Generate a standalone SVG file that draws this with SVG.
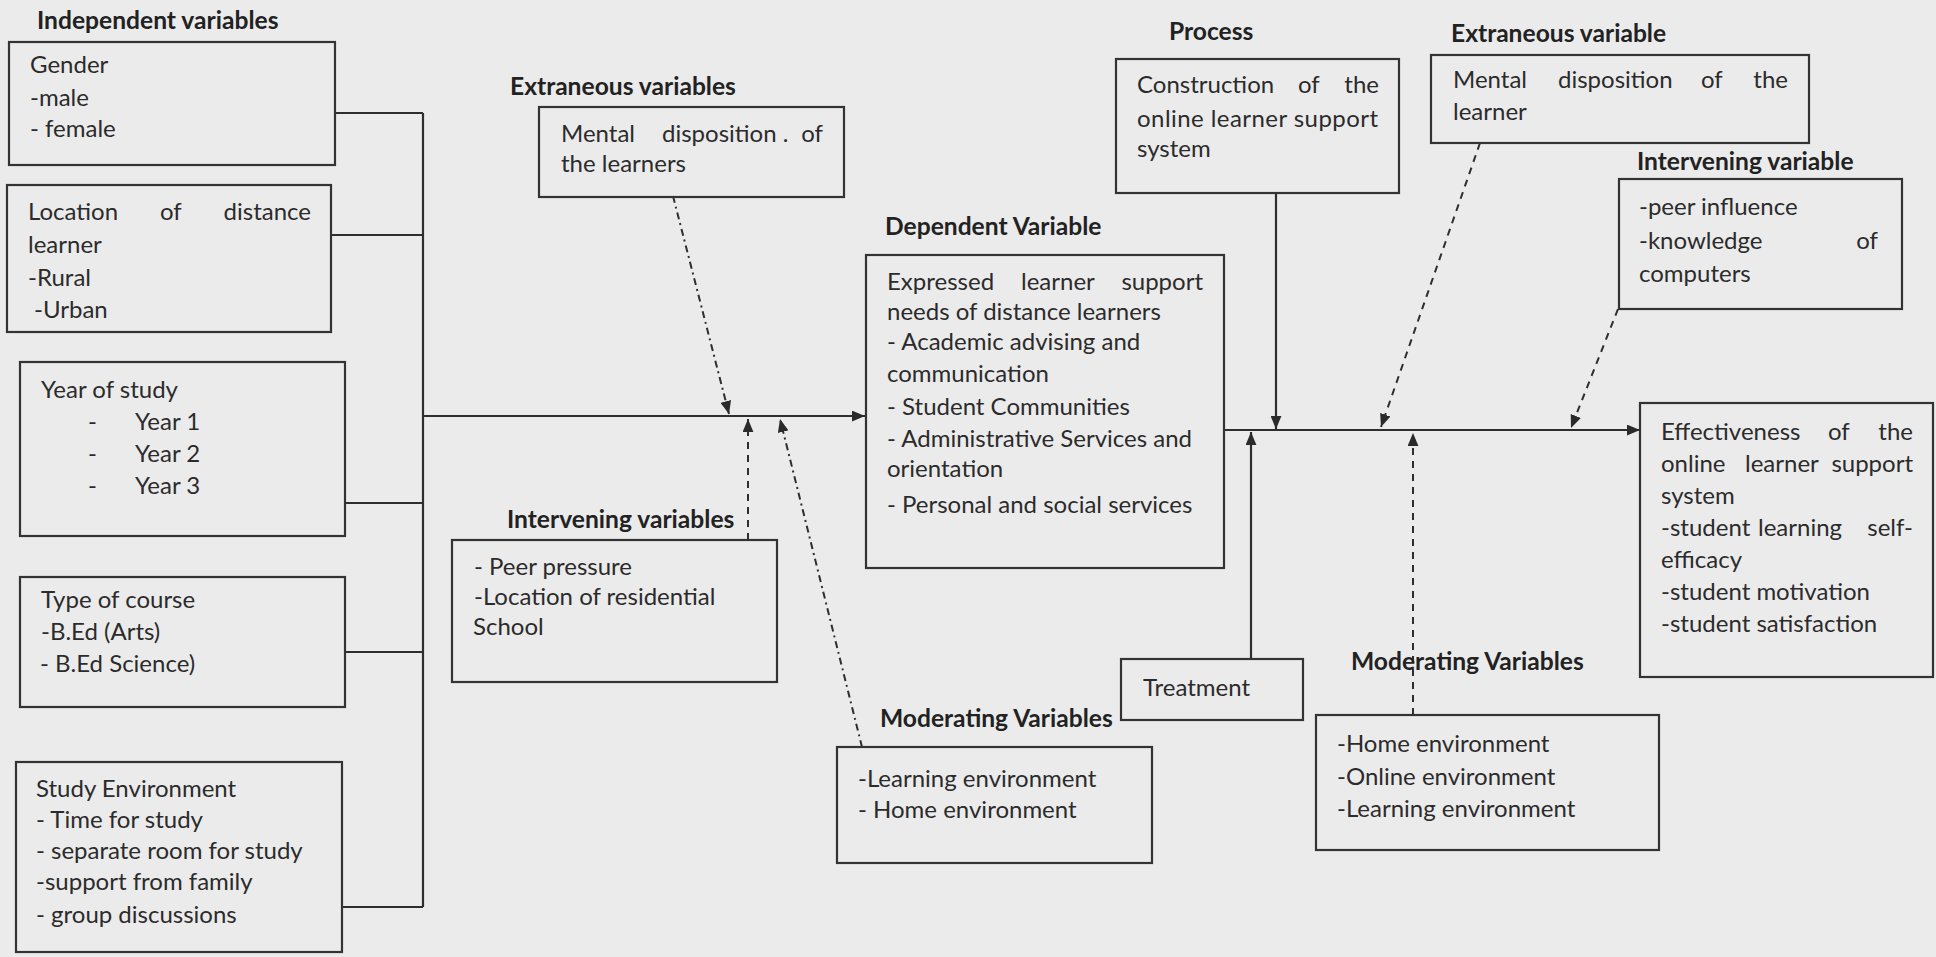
<svg xmlns="http://www.w3.org/2000/svg" width="1936" height="957" viewBox="0 0 1936 957">
<defs>
<marker id="arr" viewBox="0 0 12 10" refX="12" refY="5" markerWidth="13" markerHeight="11" markerUnits="userSpaceOnUse" orient="auto">
<path d="M0,0 L12,5 L0,10 z" fill="#2a2a2a"/>
</marker>
</defs>
<style>
.box{fill:none;stroke:#333;stroke-width:2.2}
.t{font-family:Lato,"Liberation Sans",sans-serif;font-size:24px;fill:#2b2b2b}
.h{font-family:Lato,"Liberation Sans",sans-serif;font-size:24.6px;font-weight:bold;fill:#222}
.e{text-anchor:end}
.ln{fill:none;stroke:#2e2e2e;stroke-width:2.2}
.dd{fill:none;stroke:#2e2e2e;stroke-width:2;stroke-dasharray:7 4 2 4}
.ds{fill:none;stroke:#2e2e2e;stroke-width:2;stroke-dasharray:7 6}
</style>
<rect x="0" y="0" width="1936" height="957" fill="#ebebeb"/>

<g id="connectors">
<path class="ln" d="M335,113 H423 M331,235 H423 M345,503 H423 M345,652 H423 M342,907 H423 M423,113 V907"/>
<path class="ln" d="M423,416 H865" marker-end="url(#arr)"/>
<path class="dd" d="M673,196 L729,414" marker-end="url(#arr)"/>
<path class="ds" d="M748,540 L748,419" marker-end="url(#arr)"/>
<path class="dd" d="M862,747 L780,419" marker-end="url(#arr)"/>
<path class="ln" d="M1224,430 H1640" marker-end="url(#arr)"/>
<path class="ln" d="M1276,193 V429" marker-end="url(#arr)"/>
<path class="ln" d="M1251,659 V432" marker-end="url(#arr)"/>
<path class="ds" d="M1413,715 V433" marker-end="url(#arr)"/>
<path class="ds" d="M1480,143 L1381,427" marker-end="url(#arr)"/>
<path class="ds" d="M1618,309 L1571,428" marker-end="url(#arr)"/>
</g>

<g id="label-independent"><text class="h" x="37" y="29">Independent variables</text></g>

<g id="gender">
<rect class="box" x="9" y="42" width="326" height="123"/>
<text class="t" x="30" y="73">Gender</text>
<text class="t" x="30" y="106">-male</text>
<text class="t" x="30" y="137">- female</text>
</g>

<g id="location">
<rect class="box" x="7" y="185" width="324" height="147"/>
<text class="t" y="220"><tspan x="28">Location</tspan><tspan x="160">of</tspan></text>
<text class="t e" x="311" y="220">distance</text>
<text class="t" x="28" y="253">learner</text>
<text class="t" x="28" y="286">-Rural</text>
<text class="t" x="34" y="318">-Urban</text>
</g>

<g id="year">
<rect class="box" x="20" y="362" width="325" height="174"/>
<text class="t" x="41" y="398">Year of study</text>
<text class="t" y="430"><tspan x="88">-</tspan><tspan x="135">Year 1</tspan></text>
<text class="t" y="462"><tspan x="88">-</tspan><tspan x="135">Year 2</tspan></text>
<text class="t" y="494"><tspan x="88">-</tspan><tspan x="135">Year 3</tspan></text>
</g>

<g id="course">
<rect class="box" x="20" y="577" width="325" height="130"/>
<text class="t" x="41" y="608">Type of course</text>
<text class="t" x="41" y="640">-B.Ed (Arts)</text>
<text class="t" x="40" y="672">- B.Ed Science)</text>
</g>

<g id="study-env">
<rect class="box" x="16" y="762" width="326" height="190"/>
<text class="t" x="36" y="797">Study Environment</text>
<text class="t" x="36" y="828">- Time for study</text>
<text class="t" x="36" y="859">- separate room for study</text>
<text class="t" x="36" y="890">-support from family</text>
<text class="t" x="36" y="923">- group discussions</text>
</g>

<g id="extraneous-left">
<text class="h" x="510" y="95">Extraneous variables</text>
<rect class="box" x="539" y="107" width="305" height="90"/>
<text class="t" y="142"><tspan x="561">Mental</tspan><tspan x="662">disposition .</tspan></text>
<text class="t e" x="823" y="142">of</text>
<text class="t" x="561" y="172">the learners</text>
</g>

<g id="intervening-left">
<text class="h" x="507" y="528">Intervening variables</text>
<rect class="box" x="452" y="540" width="325" height="142"/>
<text class="t" x="474" y="575">- Peer pressure</text>
<text class="t" x="474" y="605">-Location of residential</text>
<text class="t" x="473" y="635">School</text>
</g>

<g id="moderating-left">
<text class="h" x="880" y="727">Moderating Variables</text>
<rect class="box" x="837" y="747" width="315" height="116"/>
<text class="t" x="858" y="787">-Learning environment</text>
<text class="t" x="858" y="818">- Home environment</text>
</g>

<g id="dependent">
<text class="h" x="885" y="235">Dependent Variable</text>
<rect class="box" x="866" y="255" width="358" height="313"/>
<text class="t" y="290"><tspan x="887">Expressed</tspan><tspan x="1021">learner</tspan></text>
<text class="t e" x="1203" y="290">support</text>
<text class="t" x="887" y="320">needs of distance learners</text>
<text class="t" x="887" y="350">- Academic advising and</text>
<text class="t" x="887" y="382">communication</text>
<text class="t" x="887" y="415">- Student Communities</text>
<text class="t" x="887" y="447">- Administrative Services and</text>
<text class="t" x="887" y="477">orientation</text>
<text class="t" x="887" y="513">- Personal and social services</text>
</g>

<g id="process">
<text class="h" x="1169" y="40">Process</text>
<rect class="box" x="1116" y="59" width="283" height="134"/>
<text class="t" y="93"><tspan x="1137">Construction</tspan><tspan x="1298">of</tspan></text>
<text class="t e" x="1379" y="93">the</text>
<text class="t" x="1137" y="127" textLength="241" lengthAdjust="spacing">online learner support</text>
<text class="t" x="1137" y="157">system</text>
</g>

<g id="treatment">
<rect class="box" x="1121" y="659" width="182" height="61"/>
<text class="t" x="1143" y="696">Treatment</text>
</g>

<g id="moderating-right">
<text class="h" x="1351" y="670">Moderating Variables</text>
<rect class="box" x="1316" y="715" width="343" height="135"/>
<text class="t" x="1337" y="752">-Home environment</text>
<text class="t" x="1337" y="785">-Online environment</text>
<text class="t" x="1337" y="817">-Learning environment</text>
</g>

<g id="extraneous-right">
<text class="h" x="1451" y="42">Extraneous variable</text>
<rect class="box" x="1431" y="55" width="378" height="88"/>
<text class="t" y="88"><tspan x="1453">Mental</tspan><tspan x="1558">disposition</tspan><tspan x="1701">of</tspan></text>
<text class="t e" x="1788" y="88">the</text>
<text class="t" x="1453" y="120">learner</text>
</g>

<g id="intervening-right">
<text class="h" x="1637" y="170">Intervening variable</text>
<rect class="box" x="1619" y="179" width="283" height="130"/>
<text class="t" x="1639" y="215">-peer influence</text>
<text class="t" x="1639" y="249">-knowledge</text>
<text class="t e" x="1878" y="249">of</text>
<text class="t" x="1639" y="282">computers</text>
</g>

<g id="effectiveness">
<rect class="box" x="1640" y="403" width="293" height="274"/>
<text class="t" y="440"><tspan x="1661">Effectiveness</tspan><tspan x="1828">of</tspan></text>
<text class="t e" x="1913" y="440">the</text>
<text class="t" y="472"><tspan x="1661">online</tspan><tspan x="1745">learner</tspan></text>
<text class="t e" x="1913" y="472">support</text>
<text class="t" x="1661" y="504">system</text>
<text class="t" y="536"><tspan x="1661">-student</tspan><tspan x="1758">learning</tspan></text>
<text class="t e" x="1913" y="536">self-</text>
<text class="t" x="1661" y="568">efficacy</text>
<text class="t" x="1661" y="600">-student motivation</text>
<text class="t" x="1661" y="632">-student satisfaction</text>
</g>
</svg>
